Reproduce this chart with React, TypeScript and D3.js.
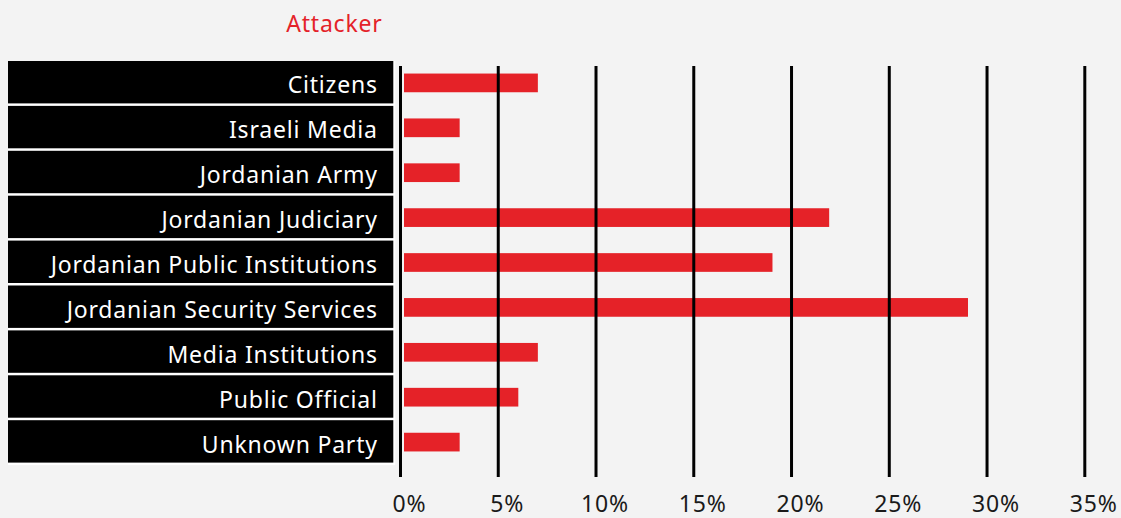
import React, { useEffect } from "react";
import * as d3 from "d3";

const categories = [
  "Citizens",
  "Israeli Media",
  "Jordanian Army",
  "Jordanian Judiciary",
  "Jordanian Public Institutions",
  "Jordanian Security Services",
  "Media Institutions",
  "Public Official",
  "Unknown Party",
];
const values = [7, 3, 3, 21.9, 19, 29, 7, 6, 3];
const ticks = [0, 5, 10, 15, 20, 25, 30, 35];
const title = "Attacker";

const W = 1121;
const H = 518;
const FONT = "'Noto Sans', sans-serif";
const LS = 0.8;

export default function App() {
  useEffect(() => {
    document.body.style.margin = "0";
    document.body.style.background = "#f3f3f3";
  }, []);

  const x = d3.scaleLinear().domain([0, 35]).range([400.5, 1084.8]);
  const yBox = d3.scaleBand<string>().domain(categories).range([61, 61 + 9 * 44.9]).paddingInner(0);
  const step = yBox.step();
  const boxH = step - 2.5;
  const barH = 18.7;

  return (
    <svg width={W} height={H} style={{ display: "block", background: "#f3f3f3" }} fontFamily={FONT}>
      <rect x={0} y={0} width={W} height={H} fill="#f3f3f3" />
      <text x={334 + LS / 2} y={32} textAnchor="middle" fill="#e42229" fontSize={23} letterSpacing={LS}>
        {title}
      </text>
      {categories.map((c) => (
        <g key={c}>
          <rect x={8} y={yBox(c)!} width={387.3} height={step} fill="#fff" />
          <rect x={8} y={yBox(c)!} width={385.3} height={boxH} fill="#000" />
          <text
            x={377 + LS}
            y={yBox(c)! + 32.3}
            textAnchor="end"
            fill="#fff"
            fontSize={23}
            letterSpacing={LS}
          >
            {c}
          </text>
        </g>
      ))}
      {categories.map((c, i) => (
        <rect
          key={c}
          x={x(0) + 3.5}
          y={yBox(c)! + boxH / 2 - barH / 2 + 0.7}
          width={x(values[i]) - x(0) - 3}
          height={barH}
          fill="#e52228"
        />
      ))}
      {ticks.map((t) => (
        <g key={t}>
          <line x1={x(t)} x2={x(t)} y1={66} y2={477} stroke="#000" strokeWidth={3} />
          <text
            x={x(t) + 8.5 + LS / 2}
            y={512}
            textAnchor="middle"
            fill="#1a1a1a"
            fontSize={23}
            letterSpacing={LS}
          >
            {t}%
          </text>
        </g>
      ))}
    </svg>
  );
}
